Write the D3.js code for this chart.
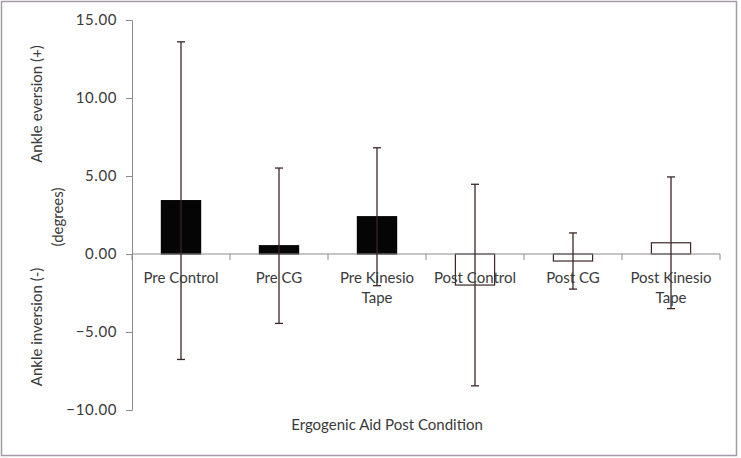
<!doctype html>
<html>
<head>
<meta charset="utf-8" />
<script src="https://cdn.jsdelivr.net/npm/d3@7"></script>
<style>
  body{margin:0;padding:0;background:#fff;}
  text{font-family:Lato,"Open Sans",sans-serif;fill:#3a3a3a;}
</style>
</head>
<body>
<script>
  // dati
  var categories = ["Pre Control","Pre CG","Pre Kinesio Tape","Post Control","Post CG","Post Kinesio Tape"];
  var means = [3.42, 0.53, 2.39, -1.99, -0.45, 0.72];
  var sds   = [10.18, 4.98, 4.42, 6.46, 1.80, 4.22];
  var filled = [true, true, true, false, false, false];
  var yTicks = [-10, -5, 0, 5, 10, 15];

  var W = 741, H = 458;
  // attenzione: "top" è riservato da window
  var plotLeft = 132, plotRight = 720, plotTop = 20, plotBottom = 410;

  var svg = d3.select("body").append("svg").attr("width", W).attr("height", H);

  // bordo esterno
  svg.append("rect").attr("x",1.5).attr("y",1.5).attr("width",735).attr("height",454)
     .attr("fill","none").attr("stroke","#a59aa6").attr("stroke-width",1.5);

  var x = d3.scaleBand().domain(categories).range([plotLeft, plotRight]).paddingInner(0.6).paddingOuter(0.3);
  var y = d3.scaleLinear().domain([-10, 15]).range([plotBottom, plotTop]);
  var step = x.step();

  // asse Y
  var yAxis = svg.append("g").attr("transform","translate(" + plotLeft + ",0)")
     .call(d3.axisLeft(y).tickValues(yTicks).tickSize(6).tickPadding(9).tickFormat(d3.format(".2f")));
  yAxis.select(".domain").attr("stroke","#8c8c8c");
  yAxis.selectAll(".tick line").attr("stroke","#8c8c8c");
  yAxis.selectAll(".tick text").attr("font-size","15px").attr("fill","#3a3a3a").style("letter-spacing","0.6px")
       .attr("font-family","Lato, 'Open Sans', sans-serif");

  // barre
  var data = categories.map(function(c,i){ return {c:c, m:means[i], sd:sds[i], f:filled[i]}; });
  svg.selectAll(".bar").data(data).enter().append("rect")
     .attr("x", function(d){ return x(d.c); })
     .attr("width", x.bandwidth())
     .attr("y", function(d){ return y(Math.max(0, d.m)); })
     .attr("height", function(d){ return Math.abs(y(d.m) - y(0)); })
     .attr("fill", function(d){ return d.f ? "#050505" : "#fff"; })
     .attr("stroke", function(d){ return d.f ? "#050505" : "#3d2626"; })
     .attr("stroke-width", 1.2);

  // asse X sullo zero
  var zx = y(0);
  svg.append("line").attr("x1",plotLeft).attr("x2",plotRight).attr("y1",zx).attr("y2",zx).attr("stroke","#8c8c8c");
  var bounds = d3.range(categories.length + 1).map(function(i){ return plotLeft + i*step; });
  svg.selectAll(".xt").data(bounds).enter().append("line")
     .attr("x1",function(d){return d;}).attr("x2",function(d){return d;})
     .attr("y1",zx).attr("y2",zx+6).attr("stroke","#8c8c8c");

  // barre di errore
  var cap = 8;
  var eb = svg.selectAll(".eb").data(data).enter().append("g").attr("stroke","#3d2626").attr("stroke-width",1.3);
  eb.append("line")
    .attr("x1",function(d){return x(d.c)+x.bandwidth()/2;}).attr("x2",function(d){return x(d.c)+x.bandwidth()/2;})
    .attr("y1",function(d){return y(d.m+d.sd);}).attr("y2",function(d){return y(d.m-d.sd);});
  eb.append("line")
    .attr("x1",function(d){return x(d.c)+x.bandwidth()/2-cap/2;}).attr("x2",function(d){return x(d.c)+x.bandwidth()/2+cap/2;})
    .attr("y1",function(d){return y(d.m+d.sd);}).attr("y2",function(d){return y(d.m+d.sd);});
  eb.append("line")
    .attr("x1",function(d){return x(d.c)+x.bandwidth()/2-cap/2;}).attr("x2",function(d){return x(d.c)+x.bandwidth()/2+cap/2;})
    .attr("y1",function(d){return y(d.m-d.sd);}).attr("y2",function(d){return y(d.m-d.sd);});

  // etichette categorie (a capo dopo "Kinesio")
  svg.selectAll(".cl").data(categories).enter().append("text")
     .attr("text-anchor","middle").attr("font-size","15px")
     .attr("transform",function(d){ return "translate(" + (x(d)+x.bandwidth()/2) + "," + (zx+29) + ")"; })
     .each(function(d){
        var parts = d.indexOf("Kinesio") >= 0 ? [d.replace(" Tape",""), "Tape"] : [d];
        var t = d3.select(this);
        parts.forEach(function(p,i){
          t.append("tspan").attr("x",0).attr("dy", i==0 ? 0 : 20).text(p);
        });
     });

  // titoli assi
  svg.append("text").attr("x",387).attr("y",430).attr("text-anchor","middle").attr("font-size","15px")
     .text("Ergogenic Aid Post Condition");
  svg.append("text").attr("transform","translate(42,104) rotate(-90)").attr("text-anchor","middle").attr("font-size","15px")
     .text("Ankle eversion (+)");
  svg.append("text").attr("transform","translate(42,327) rotate(-90)").attr("text-anchor","middle").attr("font-size","15px")
     .text("Ankle inversion (-)");
  svg.append("text").attr("transform","translate(63,217) rotate(-90)").attr("text-anchor","middle").attr("font-size","15px")
     .text("(degrees)");
</script>
</body>
</html>
